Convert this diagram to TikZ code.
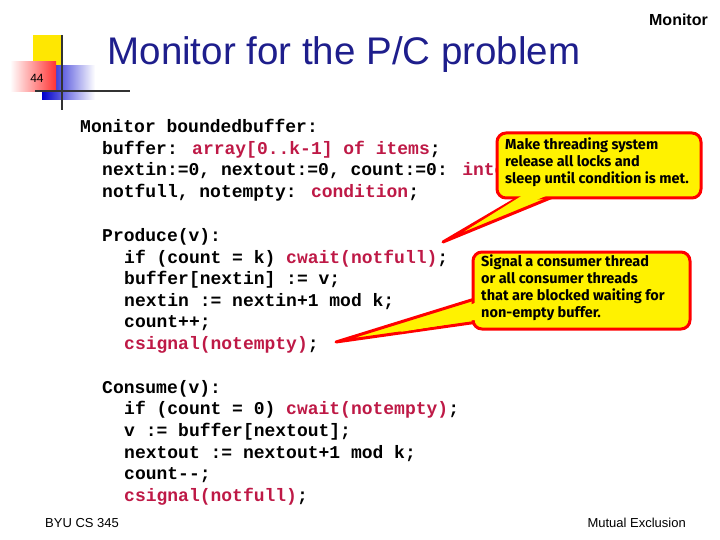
\documentclass[tikz,border=0pt]{standalone}
\usepackage{fontspec}
\setmainfont{Liberation Sans}
\newfontfamily\codefont{Liberation Mono}
\newfontfamily\callfont{Fira Sans}
\begin{document}
\begin{tikzpicture}[x=1pt,y=-1pt,
  code/.style={anchor=base west,inner sep=0,font=\codefont\bfseries\fontsize{18}{20}\selectfont},
  call/.style={draw=red,line width=3pt,fill=yellow,rounded corners=9pt},
  calltext/.style={anchor=north west,inner sep=0,align=left,font=\callfont\bfseries\fontsize{14.5}{17}\selectfont}]
\definecolor{kw}{RGB}{190,25,70}
\definecolor{ttl}{RGB}{30,30,140}
\newcommand{\kw}[1]{\textcolor{kw}{#1}}
\useasboundingbox (0,0) rectangle (720,540);
% decoration
\fill[yellow!90!orange] (33,35) rectangle (62,66);
\shade[left color=blue!80!black,right color=white] (42,66) rectangle (95,100);
\shade[left color=white,right color=red!80] (10,62) rectangle (56,92);
\node[font=\fontsize{12}{12}\selectfont,inner sep=0] (num) at (37,78) {44};
\draw[line width=2.5pt,black!80] (62,35) -- (62,110);
\draw[line width=2.5pt,black!80] (35,91) -- (130,91);
% titles
\node[font=\fontsize{38.5}{38.5}\selectfont,text=ttl,inner sep=0] (title) at (344,55) {Monitor for the P/C problem};
\node[font=\bfseries\fontsize{16}{16}\selectfont,anchor=east,inner sep=0] (hdr) at (708,20) {Monitor};
\node[font=\fontsize{13}{13}\selectfont,anchor=west,inner sep=0] (foot1) at (45,523) {BYU CS 345};
\node[font=\fontsize{13}{13}\selectfont,anchor=east,inner sep=0] (foot2) at (686,523) {Mutual Exclusion};
% code
\node[code] (l1) at (80,133) {Monitor boundedbuffer:};
\node[code] (l2) at (102,155) {buffer: \kw{array[0..k-1] of items};};
\node[code] (l3) at (102,176) {nextin:=0, nextout:=0, count:=0: \kw{integer};};
\node[code] (l4) at (102,198) {notfull, notempty: \kw{condition};};
\node[code] (l5) at (102,241) {Produce(v):};
\node[code] (l6) at (124,263) {if (count = k) \kw{cwait(notfull)};};
\node[code] (l7) at (124,284) {buffer[nextin] := v;};
\node[code] (l8) at (124,306) {nextin := nextin+1 mod k;};
\node[code] (l9) at (124,327) {count++;};
\node[code] (l10) at (124,349) {\kw{csignal(notempty)};};
\node[code] (l11) at (102,393) {Consume(v):};
\node[code] (l12) at (124,414) {if (count = 0) \kw{cwait(notempty)};};
\node[code] (l13) at (124,436) {v := buffer[nextout];};
\node[code] (l14) at (124,458) {nextout := nextout+1 mod k;};
\node[code] (l15) at (124,479) {count--;};
\node[code] (l16) at (124,501) {\kw{csignal(notfull)};};
% callout 1
\coordinate (t1) at (443,242);
\draw[draw=red,line width=3pt,fill=yellow,line join=round] (528,192) -- (t1) -- (565,192) -- cycle;
\draw[call] (497,133) rectangle (701,198);
\fill[yellow] (531,190) -- (470,228) -- (560,190) -- cycle;
\node[calltext] (c1) at (505,138) {Make threading system\\release all locks and\\sleep until condition is met.};
% callout 2
\coordinate (t2) at (336,342);
\draw[draw=red,line width=3pt,fill=yellow,line join=round] (478,298) -- (t2) -- (478,322) -- cycle;
\draw[call] (473,252) rectangle (690,329);
\fill[yellow] (480,301) -- (400,332) -- (480,319) -- cycle;
\node[calltext] (c2) at (481,255) {Signal a consumer thread\\or all consumer threads\\that are blocked waiting for\\non-empty buffer.};
\end{tikzpicture}
\end{document}
